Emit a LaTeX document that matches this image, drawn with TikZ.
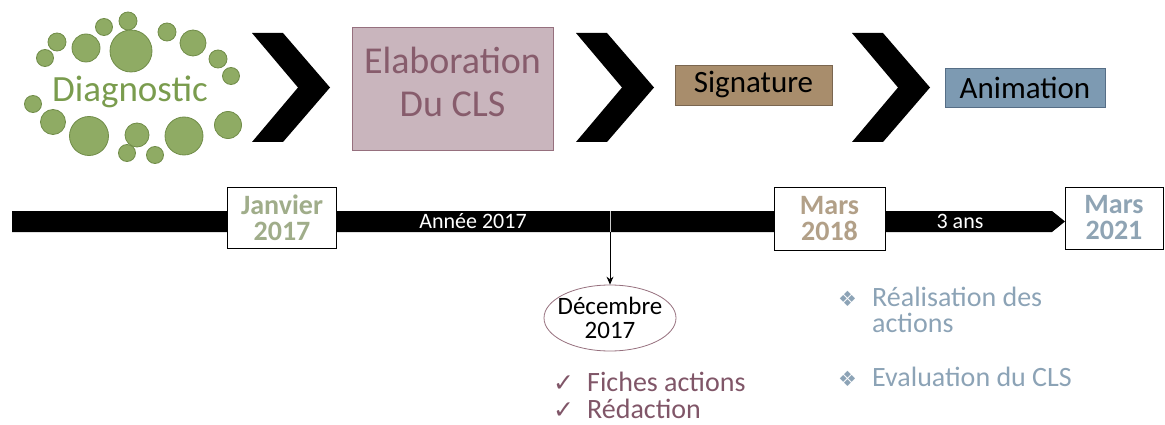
\documentclass[tikz,border=0pt]{standalone}
\usepackage{fontspec}
\setmainfont{Carlito}
\newfontfamily\symbfont{DejaVu Sans}
\usetikzlibrary{positioning,arrows.meta,shapes.geometric}

\definecolor{diaggreen}{RGB}{143,171,100}
\definecolor{diagline}{RGB}{112,140,72}
\definecolor{diagtext}{RGB}{122,156,78}
\definecolor{elabfill}{RGB}{201,181,189}
\definecolor{elabline}{RGB}{150,112,126}
\definecolor{elabtext}{RGB}{135,92,108}
\definecolor{signfill}{RGB}{168,141,108}
\definecolor{signline}{RGB}{122,102,80}
\definecolor{animfill}{RGB}{125,154,178}
\definecolor{animline}{RGB}{86,110,134}
\definecolor{jantext}{RGB}{160,173,138}
\definecolor{marstext}{RGB}{178,160,136}
\definecolor{marsbtext}{RGB}{143,164,180}
\definecolor{dectext}{RGB}{128,86,104}
\definecolor{evaltext}{RGB}{140,163,182}

\newcommand\chk{\makebox[34pt][l]{\smash{\symbfont\fontsize{25}{25}\selectfont ✓}}}
\newcommand\dia{\makebox[34pt][l]{\smash{\symbfont\fontsize{21}{21}\selectfont ❖}}}

\begin{document}
\begin{tikzpicture}[x=1pt,y=-1pt,
  stage/.style={draw,line width=0.8pt,align=center,inner sep=0pt},
  datebox/.style={draw,fill=white,line width=0.8pt,align=center,inner sep=0pt,
    font=\fontsize{28}{26}\selectfont\bfseries},
  bartext/.style={text=white,font=\fontsize{22}{24}\selectfont},
  dot/.style={fill=diaggreen,draw=diagline,line width=0.8pt},
  checkitem/.style={text=dectext,anchor=base west,inner sep=0pt,text height=18pt,text depth=4pt,
    font=\fontsize{28}{30}\selectfont},
  evalitem/.style={text=evaltext,anchor=base west,inner sep=0pt,text height=18pt,text depth=4pt,
    font=\fontsize{28}{30}\selectfont},
]
\useasboundingbox (0,0) rectangle (1165,425);

\foreach \cx/\cy/\r in {128/21/9,104/27/8.5,167/32/9,57/42/9,86/48/14,131/51/21,193/43/13,
    45/58/8.5,218/59/9,231/76/8.5,33/104/8.5,53/122/12.5,89/136/19.5,137/135/12,
    184/136/19,228/125/13.5,127/153/8.5,155/155/8.5}
  \filldraw[dot] (\cx,\cy) circle (\r pt);
\node[text=diagtext,font=\fontsize{37}{40}\selectfont] (diag) at (130,92) {Diagnostic};

\foreach \cx in {252,576,852}
  \fill (\cx,33) -- ++(31,0) -- ++(47,54.5) -- ++(-47,54.5) -- ++(-31,0) -- ++(46,-54.5) -- cycle;

\node[stage,fill=elabfill,draw=elabline,minimum width=201pt,minimum height=123pt] (elab) at (452.5,88.5) {};
\node[text=elabtext,align=center,inner sep=0pt,font=\fontsize{38}{43}\selectfont]
  (elabtxt) at ([yshift=7pt]elab.center) {Elaboration\\Du CLS};
\node[stage,fill=signfill,draw=signline,minimum width=157pt,minimum height=40pt,
  font=\fontsize{31}{32}\selectfont] (sign) at (753.5,85) {Signature};
\node[stage,fill=animfill,draw=animline,minimum width=160pt,minimum height=39pt,
  font=\fontsize{31}{32}\selectfont] (anim) at (1025,87.5) {Animation};

\fill (12,211) -- (1052,211) -- (1065,221.5) -- (1052,232) -- (12,232) -- cycle;
\node[bartext] (annee) at (473,221.5) {Année 2017};
\node[bartext] (ans) at (960,221.5) {3 ans};

\node[datebox,text=jantext,minimum width=109pt,minimum height=61pt] (jan) at (282,218) {Janvier\\2017};
\node[datebox,text=marstext,minimum width=111pt,minimum height=63pt] (marsa) at (829.5,219) {Mars\\2018};
\node[datebox,text=marsbtext,minimum width=98pt,minimum height=62pt] (marsb) at (1114,218) {Mars\\2021};

\node[ellipse,draw=elabline,line width=0.8pt,minimum width=132pt,minimum height=66pt,
  inner xsep=-14pt,inner ysep=-8pt,align=center,font=\fontsize{25}{24}\selectfont] (dec) at (610,318) {Décembre\\2017};
\coordinate (tick) at (610,211);
\coordinate (tickb) at (610,232);
\draw[white!80!black,line width=0.8pt] (tick) -- (tickb);
\draw[line width=0.8pt,-{Stealth[length=8pt,width=7pt]}] (tickb) -- (dec.north);

\node[checkitem] (fiches) at (553,391) {\chk Fiches actions};
\node[checkitem] (redac) at ([yshift=-27pt]fiches.base west) {\chk Rédaction};

\node[evalitem] (real) at (838,306) {\dia Réalisation des};
\node[evalitem] (act) at ([yshift=-26pt]real.base west) {\hspace*{34pt}actions};
\node[evalitem] (eval) at ([yshift=-80pt]real.base west) {\dia Evaluation du CLS};
\end{tikzpicture}
\end{document}
